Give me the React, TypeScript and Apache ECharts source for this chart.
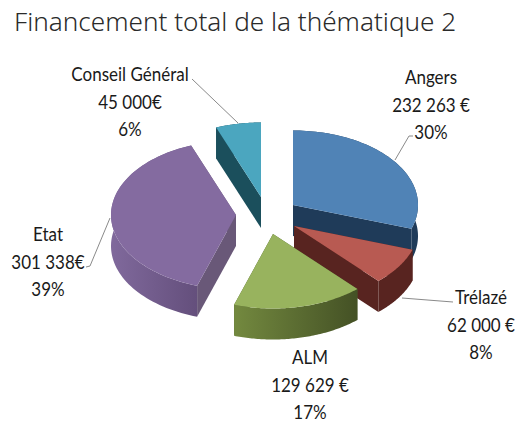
import React, { useEffect, useRef } from "react";
import * as echarts from "echarts";

const titleText = "Financement total de la thématique 2";
const names = ["Angers", "Trélazé", "ALM", "Etat", "Conseil Général"];
const values = [232263, 62000, 129629, 301338, 45000];
const amountLabels = ["232 263 €", "62 000 €", "129 629 €", "301 338€", "45 000€"];
const percentLabels = ["30%", "8%", "17%", "39%", "6%"];

const topColors = ["#5083B6", "#B85A52", "#98B35E", "#846BA0", "#4BA6BF"];
const radialWallColors = ["#1F3B59", "#582420", "#4A5A2B", "#695878", "#1B4F5C"];
const outerWallStops = [
  ["#1F3B59", "#1F3B59"],
  ["#582420", "#582420"],
  ["#73893F", "#445125"],
  ["#80699C", "#644F7C"],
  ["#1B4F5C", "#1B4F5C"],
];

const centres = [[293, 205], [294, 226], [273, 234], [236, 215], [261, 197]];
const drawOrder = [2, 3, 4, 1, 5];
const labelAnchors = [[431, 104], [481, 324], [310, 384], [48, 261], [130, 101]];
const leaders = [
  [[413, 136], [409, 136], [395, 160]],
  [[453, 302], [402, 298]],
  [],
  [[110, 218], [90, 266], [86, 267]],
  [[192, 79], [238, 123]],
];

const RX = 125;
const RY = 74.5;
const DEPTH = 31;
const total = values.reduce((a, b) => a + b, 0);

function renderItem(params: any, api: any) {
  const i = params.dataIndex;
  const before = values.slice(0, i).reduce((a, b) => a + b, 0);
  const a0 = (before / total) * 2 * Math.PI;
  const a1 = a0 + (api.value(0) / total) * 2 * Math.PI;
  const [cx, cy] = centres[i];
  const z = drawOrder[i] * 10;
  const pt = (a: number, d = 0) => [cx + RX * Math.sin(a), cy - RY * Math.cos(a) + d];
  const arc: number[][] = [];
  const arcLow: number[][] = [];
  const steps = 72;
  for (let k = 0; k <= steps; k++) {
    const a = a0 + ((a1 - a0) * k) / steps;
    arc.push(pt(a));
    arcLow.push(pt(a, DEPTH));
  }
  const radial = (a: number) => ({
    type: "polygon",
    z2: z,
    silent: true,
    shape: { points: [[cx, cy], pt(a), pt(a, DEPTH), [cx, cy + DEPTH]] },
    style: { fill: radialWallColors[i] },
  });
  const children: any[] = [
    radial(a0),
    radial(a1),
    {
      type: "polygon",
      z2: z + 1,
      silent: true,
      shape: { points: [...arc, ...arcLow.slice().reverse()] },
      style: {
        fill: new echarts.graphic.LinearGradient(0, 0, 1, 0, [
          { offset: 0, color: outerWallStops[i][0] },
          { offset: 1, color: outerWallStops[i][1] },
        ]),
      },
    },
    {
      type: "polygon",
      z2: z + 2,
      silent: true,
      shape: { points: [[cx, cy], ...arc] },
      style: { fill: topColors[i] },
    },
    {
      type: "text",
      z2: 100,
      silent: true,
      x: labelAnchors[i][0],
      y: labelAnchors[i][1],
      scaleX: 0.85,
      style: {
        text: `${names[i]}\n${amountLabels[i]}\n${percentLabels[i]}`,
        fontFamily: "Lato",
        fontSize: 20,
        lineHeight: 27.5,
        fill: "#1a1a1a",
        align: "center",
        verticalAlign: "middle",
      },
    },
  ];
  if (leaders[i].length) {
    children.push({
      type: "polyline",
      z2: 90,
      silent: true,
      shape: { points: leaders[i] },
      style: { stroke: "#8a8a8a", lineWidth: 1, fill: "none" },
    });
  }
  return { type: "group", children };
}

export default function App() {
  const ref = useRef<HTMLDivElement>(null);
  useEffect(() => {
    const chart = echarts.init(ref.current!, null, { renderer: "svg" });
    chart.setOption({
      animation: false,
      backgroundColor: "#ffffff",
      title: {
        text: titleText,
        left: 9,
        top: 3,
        textStyle: { fontFamily: "Noto Sans", fontSize: 26.1, fontWeight: 300, color: "#2a2a2a" },
      },
      series: [
        {
          type: "custom",
          coordinateSystem: "none",
          renderItem,
          data: values.map((v, i) => ({ name: names[i], value: [v] })),
        },
      ],
    });
    return () => chart.dispose();
  }, []);
  return <div ref={ref} style={{ position: "absolute", left: 0, top: 0, width: 518, height: 423 }} />;
}
